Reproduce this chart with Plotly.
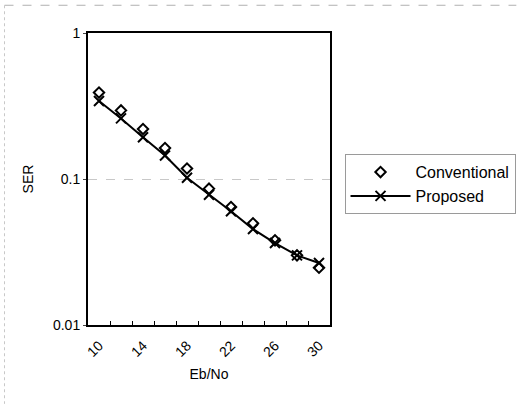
import plotly.graph_objects as go

# Eb/No sweep (dB) and measured symbol error rates
eb_no = [10, 12, 14, 16, 18, 20, 22, 24, 26, 28, 30]
ser_conventional = [0.391, 0.295, 0.220, 0.163, 0.118, 0.0859, 0.0642, 0.0497, 0.0380, 0.0300, 0.0247]
ser_proposed = [0.342, 0.260, 0.193, 0.145, 0.102, 0.0781, 0.0602, 0.0454, 0.0364, 0.0300, 0.0266]
x_tick_labels = [10, 14, 18, 22, 26, 30]
y_tick_labels = [1, 0.1, 0.01]

FONT = "Liberation Sans, Arial, sans-serif"

fig = go.Figure()
fig.add_trace(go.Scatter(
    x=eb_no, y=ser_conventional, name="Conventional", mode="markers",
    marker=dict(symbol="diamond-open", size=8, color="black", line=dict(width=2)),
))
fig.add_trace(go.Scatter(
    x=eb_no, y=ser_proposed, name="Proposed", mode="lines+markers",
    line=dict(color="black", width=2),
    marker=dict(symbol="x-thin-open", size=10, color="black", line=dict(width=2, color="black")),
))

fig.update_layout(
    width=528, height=404,
    margin=dict(l=88, r=195, t=33, b=79),
    paper_bgcolor="white", plot_bgcolor="white",
    font=dict(family=FONT, size=14, color="black"),
    showlegend=True,
    legend=dict(
        x=1.06, y=0.585, xanchor="left", yanchor="top",
        bordercolor="#9a9a9a", borderwidth=1, bgcolor="white",
        font=dict(size=16, family=FONT), itemwidth=60,
        tracegroupgap=0,
    ),
    xaxis=dict(
        range=[9, 31], tickvals=x_tick_labels, ticktext=[str(v) for v in x_tick_labels],
        tickangle=-45, ticks="", showgrid=False, zeroline=False,
        showline=True, linecolor="black", linewidth=2, mirror=True,
        tickfont=dict(size=14), ticklabelstandoff=5,
        minor=dict(tickvals=[11, 13, 15, 17, 19, 21, 23, 25, 27, 29], ticks="inside",
                   ticklen=4, tickcolor="black", showgrid=False),
        title=dict(text="Eb/No", font=dict(size=14), standoff=10),
    ),
    yaxis=dict(
        type="log", range=[-2, 0], tickvals=y_tick_labels,
        ticktext=["1", "0.1", "0.01"], ticks="outside", ticklen=3,
        showgrid=True, gridcolor="#c8c8c8", gridwidth=1, griddash="dash",
        showline=True, linecolor="black", linewidth=2, mirror=True,
        tickfont=dict(size=14),
        title=dict(text="SER", font=dict(size=14), standoff=16),
    ),
)

# faint frame of the chart area along the top and left edges
fig.add_shape(type="line", xref="paper", yref="paper", x0=-0.345, x1=1.77, y0=1.095, y1=1.095,
              line=dict(color="#b0b0b0", width=1, dash="dash"))
fig.add_shape(type="line", xref="paper", yref="paper", x0=-0.345, x1=-0.345, y0=1.095, y1=-0.27,
              line=dict(color="#c8c8c8", width=1, dash="dot"))

fig.write_html("out.html")
